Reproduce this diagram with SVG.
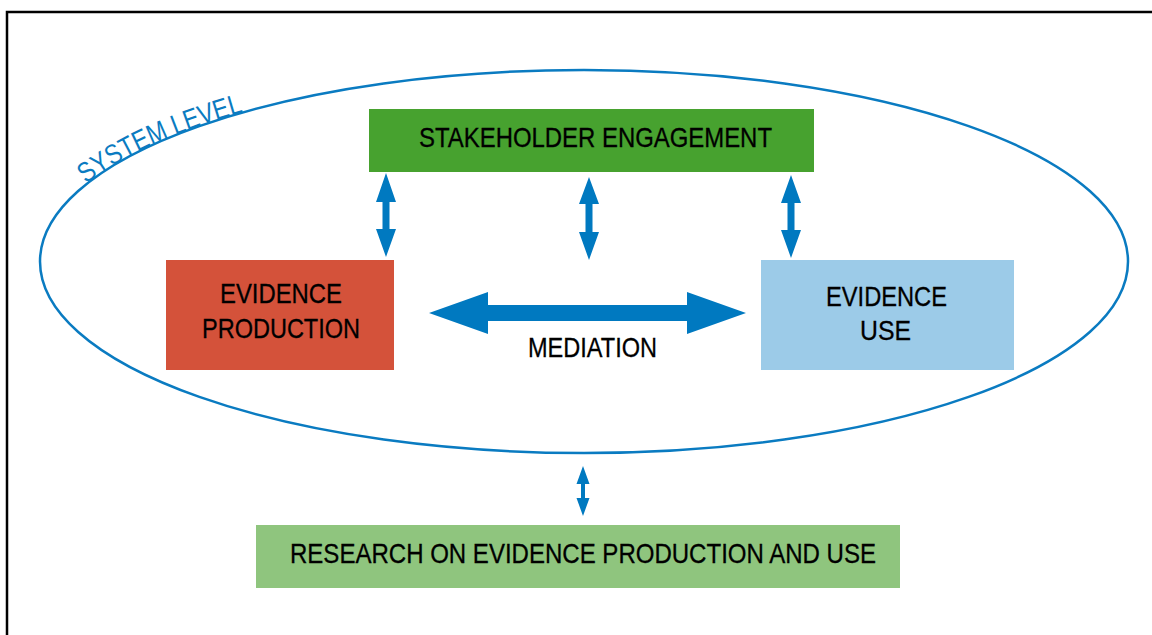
<svg xmlns="http://www.w3.org/2000/svg" width="1152" height="635" viewBox="0 0 1152 635">
<style>
.lbl{font-family:"Liberation Sans",Arial,sans-serif;font-size:28px;fill:#000;text-anchor:middle;stroke:#000;stroke-width:0.3}
.arr{fill:#0079c0}
.sys{font-family:"Liberation Sans",Arial,sans-serif;font-size:28px;fill:#0a7bc1}
</style>
<defs>
<path id="sysArc" d="M40,261 A544,191 0 0 1 584,70"/>
</defs>
<rect width="1152" height="635" fill="#fff"/>
<rect x="7" y="12" width="1170" height="660" fill="none" stroke="#000" stroke-width="2.5"/>
<g id="system-level">
<ellipse cx="584" cy="261.5" rx="544" ry="191.5" fill="none" stroke="#0a7bc1" stroke-width="2.5"/>
<text class="sys"><textPath href="#sysArc" startOffset="93" textLength="174" lengthAdjust="spacingAndGlyphs">SYSTEM LEVEL</textPath></text>
</g>
<g id="stakeholder-engagement">
<rect x="369" y="109" width="445" height="63" fill="#47a22f"/>
<text class="lbl" x="595.5" y="147" textLength="353" lengthAdjust="spacingAndGlyphs">STAKEHOLDER ENGAGEMENT</text>
</g>
<g id="evidence-production">
<rect x="166" y="260" width="228" height="110" fill="#d4523a"/>
<text class="lbl" x="281" y="303" textLength="122" lengthAdjust="spacingAndGlyphs">EVIDENCE</text>
<text class="lbl" x="281" y="338" textLength="158" lengthAdjust="spacingAndGlyphs">PRODUCTION</text>
</g>
<g id="evidence-use">
<rect x="761" y="260" width="253" height="110" fill="#9ccbe8"/>
<text class="lbl" x="886.5" y="306" textLength="121" lengthAdjust="spacingAndGlyphs">EVIDENCE</text>
<text class="lbl" x="885.5" y="340" textLength="51" lengthAdjust="spacingAndGlyphs">USE</text>
</g>
<g id="research">
<rect x="256" y="525" width="644" height="63" fill="#8fc57e"/>
<text class="lbl" x="583" y="563" textLength="586" lengthAdjust="spacingAndGlyphs">RESEARCH ON EVIDENCE PRODUCTION AND USE</text>
</g>
<g id="connectors">
<polygon class="arr" points="386,173 396,202 389.5,202 389.5,229 396,229 386,257 376,229 382.5,229 382.5,202 376,202"/>
<polygon class="arr" points="589,177 599,204 592.5,204 592.5,232 599,232 589,260 579,232 585.5,232 585.5,204 579,204"/>
<polygon class="arr" points="791,175 801,203 794.5,203 794.5,230 801,230 791,258 781,230 787.5,230 787.5,203 781,203"/>
<polygon class="arr" points="429,313 488,292 488,305 687,305 687,292 746,313 687,334 687,321 488,321 488,334"/>
<polygon class="arr" points="583,466 589.5,484 585,484 585,498 589.5,498 583,516 576.5,498 581,498 581,484 576.5,484"/>
<text class="lbl" x="592.5" y="357" textLength="129" lengthAdjust="spacingAndGlyphs">MEDIATION</text>
</g>
</svg>
